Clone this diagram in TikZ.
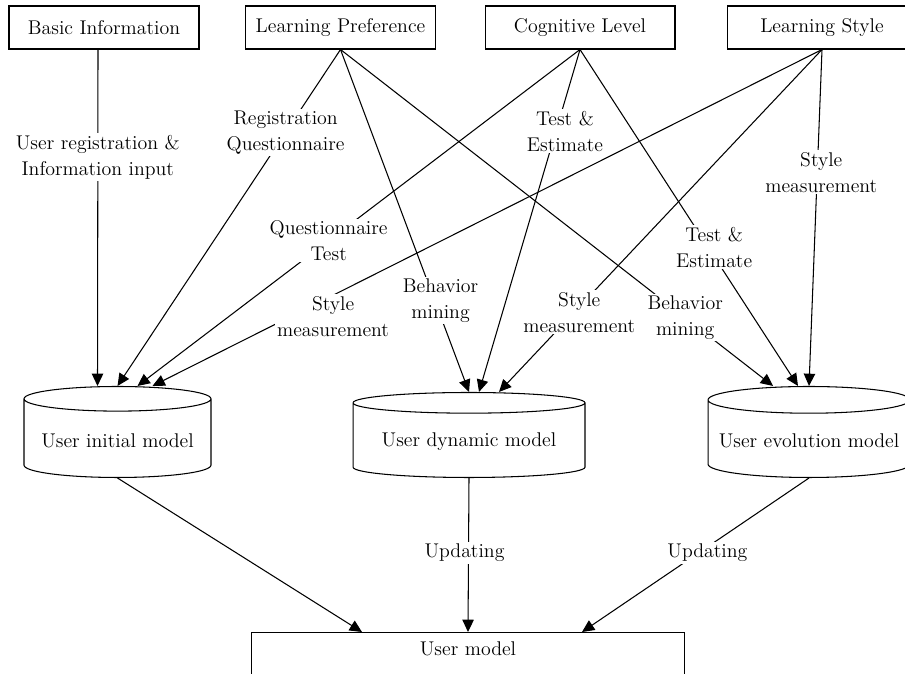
\documentclass[tikz,border=0pt]{standalone}
\usepackage{tikz}
\usetikzlibrary{positioning,arrows.meta,shapes.geometric,calc}

\begin{document}
\begin{tikzpicture}[x=0.02cm, y=-0.02cm, line width=0.6pt,
  font=\fontsize{11.3}{14.8}\selectfont,
  box/.style={draw, rectangle, minimum width=3.8cm, minimum height=0.86cm},
  db/.style={draw, cylinder, shape border rotate=90, anchor=bottom},
  lbl/.style={fill=white, align=center, inner sep=1pt},
  arr/.style={-{Triangle[length=7pt, width=6.5pt]}}]
  \useasboundingbox (0,0) rectangle (905,673);
  % Top row: sources of user data
  \foreach \name/\x/\txt in {basic/104/Basic Information, pref/340.5/Learning Preference,
                             cog/580/Cognitive Level, style/822/Learning Style}
    \node[box] (\name) at (\x, 27.5) {\txt};
  % Middle row: the three sub-models
  \node[db, aspect=0.15, minimum width=3.74cm, minimum height=1.82cm] (init) at (117.5, 478) {User initial model};
  \node[db, aspect=0.111, minimum width=4.64cm, minimum height=1.7cm] (dyn) at (469, 478) {User dynamic model};
  \node[db, aspect=0.139, minimum width=4.04cm, minimum height=1.82cm] (evol) at (809, 478) {User evolution model};
  % Bottom: the whole user model
  \node[draw, anchor=north, minimum width=8.68cm, inner ysep=5pt, text depth=1.2cm] (umodel) at (468, 632) {User model};

  % Into the initial model
  \draw[arr] ([xshift=-0.12cm]basic.south) -- node[lbl, pos=0.32] (lbReg) {User registration \&\\Information input} ($(init.top)+(-20,0)$);
  \draw[arr] (pref.south) -- node[lbl, pos=0.246] (lbQuest) {Registration\\Questionnaire} (init.top);
  \draw[arr] (cog.south) -- node[lbl, pos=0.568] (lbTest) {Questionnaire\\Test} ($(init.top)+(20,0)$);
  \draw[arr] (style.south) -- node[lbl, pos=0.793, xshift=0.84cm] (lbStyleA) {Style\\measurement} ($(init.top)+(35,0)$);
  % Into the dynamic model
  \draw[arr] (pref.south) -- node[lbl, pos=0.732, xshift=0.12cm] (lbMineA) {Behavior\\mining} (dyn.top);
  \draw[arr] (cog.south) -- node[lbl, pos=0.238, xshift=0.18cm] (lbEstA) {Test \&\\Estimate} ($(dyn.top)+(10,0)$);
  \draw[arr] (style.south) -- node[lbl, pos=0.767, xshift=0.1cm] (lbStyleB) {Style\\measurement} ($(dyn.top)+(30,0)$);
  % Into the evolution model
  \draw[arr] (pref.south) -- node[lbl, pos=0.797] (lbMineB) {Behavior\\mining} ($(evol.top)+(-36,0)$);
  \draw[arr] (cog.south) -- node[lbl, pos=0.588, xshift=0.12cm] (lbEstB) {Test \&\\Estimate} ($(evol.top)+(-11,0)$);
  \draw[arr] (style.south) -- node[lbl, pos=0.365, xshift=0.08cm] (lbStyleC) {Style\\measurement} (evol.top);
  % Sub-models to user model
  \draw[arr] (init.bottom) -- ($(umodel.north)+(-106,0)$);
  \draw[arr] (dyn.bottom) -- node[lbl, pos=0.487, xshift=-0.08cm] (lbUpdA) {Updating} (umodel.north);
  \draw[arr] (evol.bottom) -- node[lbl, pos=0.487, xshift=0.18cm] (lbUpdB) {Updating} ($(umodel.north)+(114,0)$);
\end{tikzpicture}
\end{document}
